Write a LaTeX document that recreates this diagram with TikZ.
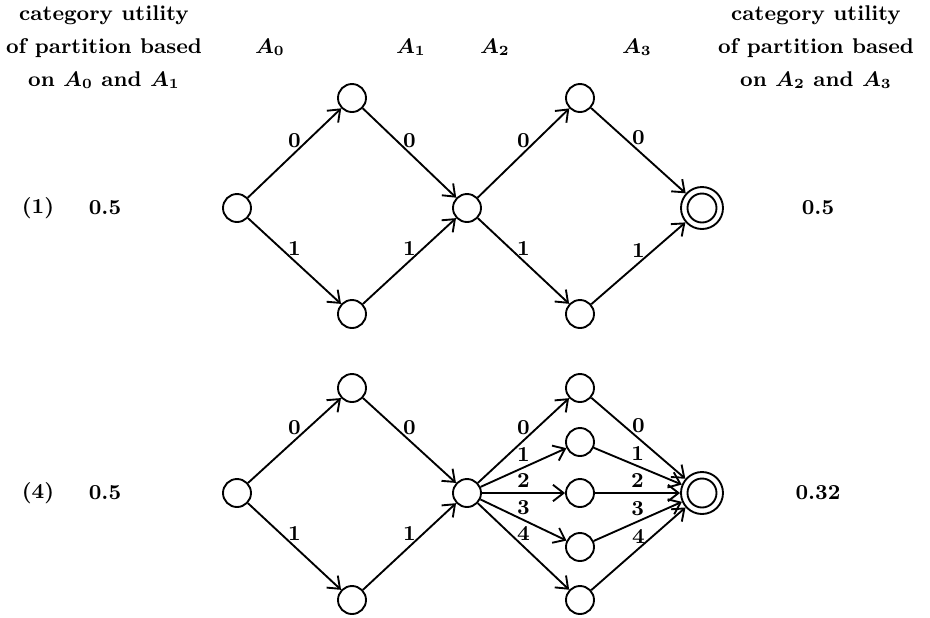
\documentclass[tikz,border=0pt]{standalone}
\usepackage{amsmath}
\usepackage{amssymb}
\usetikzlibrary{arrows.meta}

\begin{document}
\begin{tikzpicture}[x=0.015cm,y=-0.015cm,line width=0.8pt,
    state/.style={draw,circle,inner sep=0pt,minimum size=0.42cm},
    accept/.style={draw,circle,inner sep=0pt,minimum size=0.63cm},
    lbl/.style={above=1pt,inner sep=1pt},
    >={Straight Barb[length=4.5pt,width=7pt]},
    font=\fontsize{9.1}{14}\selectfont\bfseries\boldmath]
            \useasboundingbox (0,0) rectangle (930,617);
            \node[align=center] (cuL) at (104,47) {category utility\\of partition based\\on $A_0$ and $A_1$};
            \node[align=center] (cuR) at (816,47) {category utility\\of partition based\\on $A_2$ and $A_3$};
            \node (a0) at (270,47) {$A_0$};
            \node (a1) at (411,47) {$A_1$};
            \node (a2) at (495,47) {$A_2$};
            \node (a3) at (637,47) {$A_3$};

            \node (r1) at (38,208) {(1)};
            \node (u1) at (105,208) {0.5};
            \node (v1) at (818,208) {0.5};
            \node[state] (s1) at (237,208) {};
            \node[state] (t1) at (352,98) {};
            \node[state] (b1) at (352,314) {};
            \node[state] (m1) at (467,208) {};
            \node[state] (t2) at (580,98) {};
            \node[state] (b2) at (580,314) {};
            \node[accept] (f1) at (702,208) {};
            \node[state,minimum size=0.435cm] (f1i) at (f1) {};
            \draw[->] (s1) -- node[lbl]{0} (t1);
            \draw[->] (s1) -- node[lbl]{1} (b1);
            \draw[->] (t1) -- node[lbl]{0} (m1);
            \draw[->] (b1) -- node[lbl]{1} (m1);
            \draw[->] (m1) -- node[lbl]{0} (t2);
            \draw[->] (m1) -- node[lbl]{1} (b2);
            \draw[->] (t2) -- node[lbl]{0} (f1);
            \draw[->] (b2) -- node[lbl]{1} (f1);

            \node (r4) at (38,493) {(4)};
            \node (u4) at (105,493) {0.5};
            \node (v4) at (818,493) {0.32};
            \node[state] (s4) at (237,493) {};
            \node[state] (t4) at (352,388) {};
            \node[state] (b4) at (352,600) {};
            \node[state] (m4) at (467,493) {};
            \node[state] (c0) at (580,388) {};
            \node[state] (c1) at (580,442) {};
            \node[state] (c2) at (580,493) {};
            \node[state] (c3) at (580,547) {};
            \node[state] (c4) at (580,600) {};
            \node[accept] (f4) at (702,493) {};
            \node[state,minimum size=0.435cm] (f4i) at (f4) {};
            \draw[->] (s4) -- node[lbl]{0} (t4);
            \draw[->] (s4) -- node[lbl]{1} (b4);
            \draw[->] (t4) -- node[lbl]{0} (m4);
            \draw[->] (b4) -- node[lbl]{1} (m4);
            \foreach \i in {0,...,4} {
              \draw[->] (m4) -- node[lbl]{\i} (c\i);
              \draw[->] (c\i) -- node[lbl]{\i} (f4);
            }
\end{tikzpicture}
\end{document}
